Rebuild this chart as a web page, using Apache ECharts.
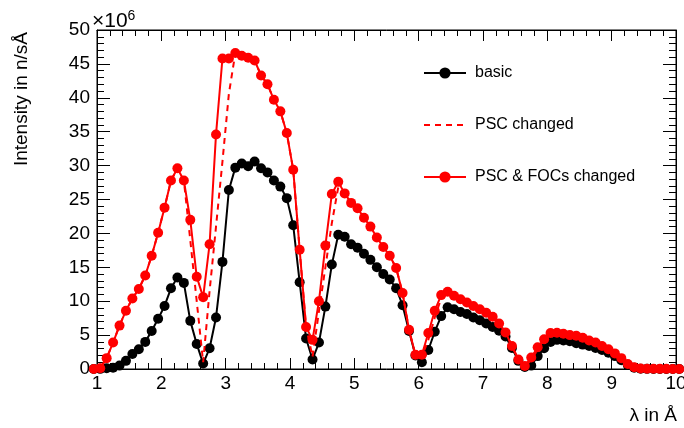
<!DOCTYPE html>
<html>
<head>
<meta charset="utf-8">
<script src="https://cdn.jsdelivr.net/npm/echarts@6/dist/echarts.min.js"></script>
<style>
  html, body { margin: 0; padding: 0; background: #fff; }
  #chart { width: 684px; height: 428px; }
</style>
</head>
<body>
<div id="chart"></div>
<script>
// Wavelength bin centres (Å)
const lambda = [
  0.95, 1.05, 1.15, 1.25, 1.35, 1.45, 1.55, 1.65, 1.75, 1.85, 1.95,
  2.05, 2.15, 2.25, 2.35, 2.45, 2.55, 2.65, 2.75, 2.85, 2.95,
  3.05, 3.15, 3.25, 3.35, 3.45, 3.55, 3.65, 3.75, 3.85, 3.95,
  4.05, 4.15, 4.25, 4.35, 4.45, 4.55, 4.65, 4.75, 4.85, 4.95,
  5.05, 5.15, 5.25, 5.35, 5.45, 5.55, 5.65, 5.75, 5.85, 5.95,
  6.05, 6.15, 6.25, 6.35, 6.45, 6.55, 6.65, 6.75, 6.85, 6.95,
  7.05, 7.15, 7.25, 7.35, 7.45, 7.55, 7.65, 7.75, 7.85, 7.95,
  8.05, 8.15, 8.25, 8.35, 8.45, 8.55, 8.65, 8.75, 8.85, 8.95,
  9.05, 9.15, 9.25, 9.35, 9.45, 9.55, 9.65, 9.75, 9.85, 9.95,
  10.05
];

// Intensity in units of 1e6 n/sÅ
const basic = [
  0, 0.02, 0.1, 0.2, 0.5, 1.2, 2.2, 2.9, 4.0, 5.6, 7.4,
  9.3, 11.9, 13.5, 12.7, 7.1, 3.7, 0.8, 3.05, 7.6, 15.8,
  26.4, 29.7, 30.3, 29.9, 30.6, 29.6, 29.0, 27.8, 26.9, 25.2,
  21.2, 12.8, 4.5, 1.4, 3.9, 9.2, 15.4, 19.8, 19.5, 18.4,
  17.9, 17.0, 16.1, 15.0, 14.0, 13.2, 11.9, 9.4, 5.6, 2.0,
  1.0, 2.8, 5.5, 7.8, 9.1, 8.8, 8.4, 8.1, 7.6, 7.2,
  6.7, 6.2, 5.65, 4.8, 3.1, 1.2, 0.3, 0.5, 1.9, 3.05,
  4.0, 4.3, 4.2, 4.1, 3.8, 3.6, 3.4, 3.1, 2.8, 2.4,
  1.9, 1.3, 0.6, 0.2, 0.05, 0.02, 0.01, 0.01, 0, 0,
  0
];

const pscChanged = [
  0, 0.1, 1.6, 3.9, 6.4, 8.6, 10.4, 11.8, 13.8, 16.7, 20.1,
  23.8, 27.8, 29.6, 27.8, 19.0, 10.0, 1.0, 11.5, 21.0, 30.6,
  40.6, 46.6, 46.2, 45.9, 45.5, 43.3, 42.0, 39.7, 38.0, 34.8,
  29.4, 17.6, 6.2, 1.8, 8.5, 15.0, 21.5, 26.8, 25.9, 24.5,
  23.7, 22.3, 21.0, 19.4, 18.0, 16.7, 14.9, 11.2, 5.8, 2.0,
  1.8, 4.3, 7.6, 10.4, 11.3, 10.8, 10.3, 9.8, 9.3, 8.8,
  8.3, 7.7, 6.7, 5.4, 3.4, 1.4, 0.4, 1.3, 2.9, 4.4,
  5.3, 5.35, 5.2, 5.0, 4.9, 4.6, 4.2, 3.9, 3.4, 2.9,
  2.3, 1.6, 0.75, 0.25, 0.08, 0.04, 0.03, 0.02, 0.02, 0.01,
  0.01
];

const pscFocsChanged = [
  0, 0.1, 1.6, 3.9, 6.4, 8.6, 10.4, 11.8, 13.8, 16.7, 20.1,
  23.8, 27.8, 29.6, 27.8, 22.0, 13.6, 10.6, 18.4, 34.6, 45.8,
  45.8, 46.6, 46.2, 45.9, 45.5, 43.3, 42.0, 39.7, 38.0, 34.8,
  29.4, 17.6, 6.2, 4.3, 10.0, 18.2, 25.8, 27.6, 25.9, 24.5,
  23.7, 22.3, 21.0, 19.4, 18.0, 16.7, 14.9, 11.2, 5.8, 2.1,
  2.1, 5.3, 8.6, 10.9, 11.4, 10.8, 10.3, 9.8, 9.3, 8.8,
  8.3, 7.7, 6.7, 5.4, 3.4, 1.4, 0.45, 1.7, 3.2, 4.4,
  5.3, 5.35, 5.2, 5.0, 4.9, 4.6, 4.2, 3.9, 3.4, 2.9,
  2.3, 1.6, 0.75, 0.25, 0.08, 0.04, 0.03, 0.02, 0.02, 0.01,
  0.01
];

const seriesNames = ['basic', 'PSC changed', 'PSC & FOCs changed'];

const FONT = '"Liberation Sans", Arial, Helvetica, sans-serif';

function pairs(ys) {
  return lambda.map((x, i) => [x, ys[i]]);
}

const tickBase = {
  inside: true,
  length: 13,
  lineStyle: { color: '#000', width: 1 }
};
const minorBase = {
  show: true,
  splitNumber: 5,
  length: 7,
  lineStyle: { color: '#000', width: 1 }
};

const chart = echarts.init(document.getElementById('chart'), null, { renderer: 'canvas' });

chart.setOption({
  animation: false,
  backgroundColor: '#fff',
  grid: {
    left: 97, right: 8, top: 30, bottom: 59,
    outerBoundsMode: 'none',
    containLabel: false,
    show: true, borderColor: '#000', borderWidth: 1, backgroundColor: 'transparent'
  },
  xAxis: [
    {
      type: 'value', min: 1, max: 10, interval: 1, position: 'bottom',
      axisLine: { show: true, onZero: false, lineStyle: { color: '#000', width: 1 } },
      axisTick: Object.assign({}, tickBase, { length: 11 }),
      minorTick: Object.assign({}, minorBase, { length: 6 }),
      splitLine: { show: false },
      axisLabel: { color: '#000', fontFamily: FONT, fontSize: 19, margin: 5 }
    },
    {
      type: 'value', min: 1, max: 10, interval: 1, position: 'top',
      axisLine: { show: true, onZero: false, lineStyle: { color: '#000', width: 1 } },
      axisTick: Object.assign({}, tickBase, { length: 11 }),
      minorTick: Object.assign({}, minorBase, { length: 6 }),
      splitLine: { show: false },
      axisLabel: { show: false }
    }
  ],
  yAxis: [
    {
      type: 'value', min: 0, max: 50, interval: 5, position: 'left',
      axisLine: { show: true, onZero: false, lineStyle: { color: '#000', width: 1 } },
      axisTick: tickBase,
      minorTick: minorBase,
      splitLine: { show: false },
      axisLabel: { color: '#000', fontFamily: FONT, fontSize: 19, margin: 7 }
    },
    {
      type: 'value', min: 0, max: 50, interval: 5, position: 'right',
      axisLine: { show: true, onZero: false, lineStyle: { color: '#000', width: 1 } },
      axisTick: tickBase,
      minorTick: minorBase,
      splitLine: { show: false },
      axisLabel: { show: false }
    }
  ],
  legend: {
    orient: 'vertical',
    left: 423, top: 65,
    padding: 0,
    itemWidth: 42, itemHeight: 14, itemGap: 36,
    textStyle: { color: '#000', fontFamily: FONT, fontSize: 16, padding: [0, 0, 0, 4] },
    data: [
      { name: seriesNames[0] },
      { name: seriesNames[1], itemStyle: { opacity: 0 } },
      { name: seriesNames[2] }
    ]
  },
  series: [
    {
      name: seriesNames[0], type: 'line', data: pairs(basic),
      clip: false, z: 3,
      symbol: 'circle', symbolSize: 10, showSymbol: true,
      itemStyle: { color: '#000' },
      lineStyle: { color: '#000', width: 2 }
    },
    {
      name: seriesNames[1], type: 'line', data: pairs(pscChanged),
      clip: false, z: 4,
      symbol: 'none',
      itemStyle: { color: '#ff0000' },
      lineStyle: { color: '#ff0000', width: 2, type: [6, 5] }
    },
    {
      name: seriesNames[2], type: 'line', data: pairs(pscFocsChanged),
      clip: false, z: 5,
      symbol: 'circle', symbolSize: 10, showSymbol: true,
      itemStyle: { color: '#ff0000' },
      lineStyle: { color: '#ff0000', width: 2 }
    }
  ],
  graphic: [
    {
      type: 'text', left: 92, top: 9,
      style: {
        text: '{b|×10}{s|6}',
        rich: {
          b: { fontFamily: FONT, fontSize: 21, fill: '#000' },
          s: { fontFamily: FONT, fontSize: 14, fill: '#000', verticalAlign: 'top', padding: [0, 0, 10, 0] }
        }
      }
    },
    {
      type: 'text', x: 22, y: 32, rotation: Math.PI / 2,
      style: {
        text: 'Intensity in n/sÅ', fontFamily: FONT, fontSize: 19, fill: '#000',
        align: 'right', verticalAlign: 'middle'
      }
    },
    {
      type: 'text', x: 677, y: 416,
      style: {
        text: 'λ in Å', fontFamily: FONT, fontSize: 19, fill: '#000',
        align: 'right', verticalAlign: 'middle'
      }
    }
  ]
});
</script>
</body>
</html>
